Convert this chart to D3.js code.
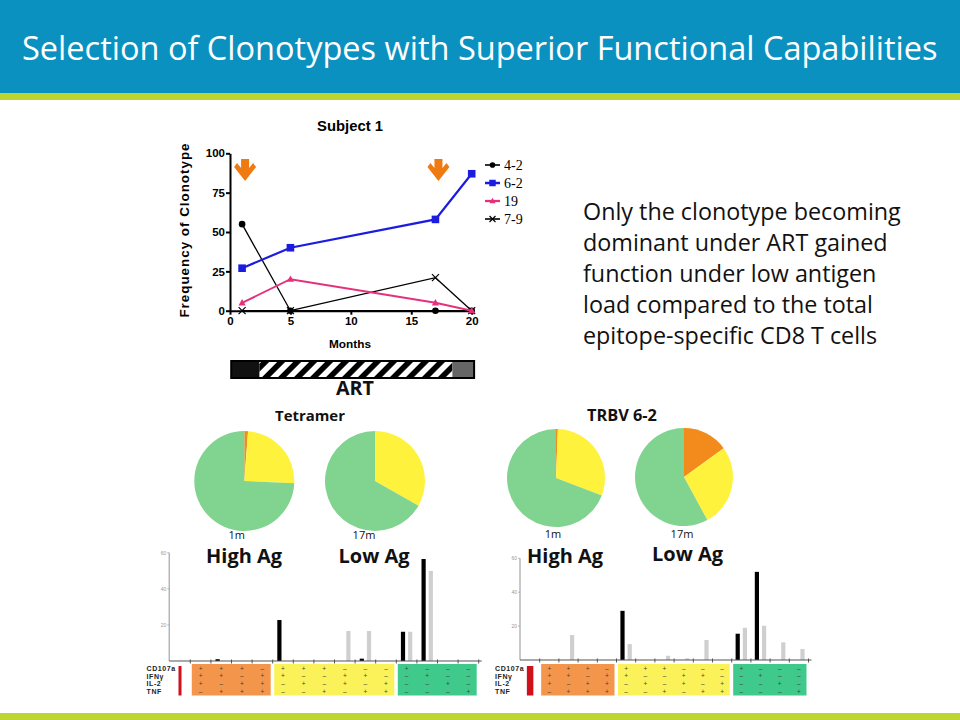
<!DOCTYPE html>
<html><head><meta charset="utf-8">
<script src="https://cdn.jsdelivr.net/npm/d3@7"></script>
<style>body{margin:0;background:#fff}svg{display:block}</style>
</head><body>
<svg id="c" width="960" height="720"></svg>
<script>
// ---------------- DATA ----------------
const titleText = "Selection of Clonotypes with Superior Functional Capabilities";
const months = [1, 5, 17, 20];
const clonotypes = ["4-2", "6-2", "19", "7-9"];
const freq_4_2 = [55, 0, 0, 0];
const freq_6_2 = [27, 40, 58, 87];
const freq_19 = [5, 20, 5, 0];
const freq_7_9 = [0, 0, 21, 0];
const monthTicks = [0, 5, 10, 15, 20];
const freqTicks = [0, 25, 50, 75, 100];
const arrowMonths = [1, 17];
const artBounds = [0.1, 2.45, 18.4, 20.2];   // pre-ART | ART | post
const textLines = ["Only the clonotype becoming", "dominant under ART gained", "function under low antigen",
                   "load compared to the total", "epitope-specific CD8 T cells"];

const pieParts = ["3 functions", "2 functions", "1 function"];
const pieTetramer1m = [1.2, 24.5, 74.3];
const pieTetramer17m = [0, 33.2, 66.8];
const pieTRBV1m = [0.6, 30.2, 69.2];
const pieTRBV17m = [15, 27.1, 57.9];
const pieTimes = ["1m", "17m"];
const pieAg = ["High Ag", "Low Ag"];

const functionNames = ["CD107a", "IFNγ", "IL-2", "TNF"];
const combos = ["++++", "+++-", "++-+", "+-++", "-+++", "++--", "+-+-", "+--+", "-++-", "-+-+", "--++", "+---", "-+--", "--+-", "---+"];
const tetramer1m  = [0, 0, 1, 0, 0, 22.7, 0, 0, 0, 1.3, 0, 16.2, 56.5, 0, 0];
const tetramer17m = [0, 0, 0, 0, 0, 0, 0, 0, 16.6, 16.6, 0, 16.2, 49.9, 0, 0];
const trbv1m  = [0, 0, 0, 0, 0, 29, 0, 0, 0, 0, 0, 15.5, 52, 0, 0];
const trbv17m = [0, 0, 14.7, 0, 0, 9.4, 0, 2.5, 1, 11.8, 0, 19, 20.2, 10.4, 6.5];
const barTicks = [20, 40, 60];

// ---------------- DRAW ----------------
const svg = d3.select("#c");
const fit = (sel, w) => { const l = sel.node().getComputedTextLength(); sel.attr("font-size", parseFloat(sel.attr("font-size")) * w / l); return sel; };

// header
svg.append("rect").attr("x", 0).attr("y", 0).attr("width", 960).attr("height", 93).attr("fill", "#0a91bf");
svg.append("rect").attr("x", 0).attr("y", 93).attr("width", 960).attr("height", 7).attr("fill", "#bfd52f");
svg.append("rect").attr("x", 0).attr("y", 713).attr("width", 960).attr("height", 7).attr("fill", "#bfd52f");
fit(svg.append("text").attr("x", 22).attr("y", 60).attr("fill", "#fff").attr("font-family", "Open Sans")
  .attr("font-size", 28).text(titleText), 916);

// paragraph
const para = svg.append("g").attr("font-family", "Open Sans").attr("fill", "#111");
const p0 = fit(para.append("text").attr("x", 583).attr("y", 220).attr("font-size", 21).text(textLines[0]), 318);
const pSize = p0.attr("font-size");
textLines.slice(1).forEach((t, i) => para.append("text").attr("x", 583).attr("y", 220 + 31 * (i + 1)).attr("font-size", pSize).text(t));

// ---------- line chart ----------
const x = d3.scaleLinear([0, 20], [230, 471.7]);
const y = d3.scaleLinear([0, 100], [310.7, 153.3]);
const lc = svg.append("g").attr("font-family", "Liberation Sans, Arial").attr("font-weight", "bold");
fit(lc.append("text").attr("x", 350).attr("y", 131).attr("text-anchor", "middle").attr("font-size", 13).text("Subject 1"), 66);
fit(lc.append("text").attr("x", 350).attr("y", 348).attr("text-anchor", "middle").attr("font-size", 11).text("Months"), 42);
fit(lc.append("text").attr("transform", "translate(189,230) rotate(-90)").attr("text-anchor", "middle")
  .attr("font-size", 13).attr("letter-spacing", 1).text("Frequency of Clonotype"), 176);

const xAx = lc.append("g").attr("transform", `translate(0,${y(0)})`)
  .call(d3.axisBottom(x).tickValues(monthTicks).tickSize(4).tickSizeOuter(0).tickPadding(2));
const yAx = lc.append("g").attr("transform", `translate(${x(0)},0)`)
  .call(d3.axisLeft(y).tickValues(freqTicks).tickSize(4).tickSizeOuter(0).tickPadding(1));
[xAx, yAx].forEach(a => {
  a.selectAll("path,line").attr("stroke", "#000").attr("stroke-width", 2);
  a.selectAll("text").attr("font-size", 11.5).attr("font-weight", "bold").attr("fill", "#000").attr("font-family", "Liberation Sans, Arial");
});

const series = [
  { name: clonotypes[0], vals: freq_4_2, color: "#000", w: 1.3, marker: "circle" },
  { name: clonotypes[1], vals: freq_6_2, color: "#1c1ce0", w: 2.2, marker: "square" },
  { name: clonotypes[2], vals: freq_19, color: "#e6307c", w: 2, marker: "triangle" },
  { name: clonotypes[3], vals: freq_7_9, color: "#000", w: 1.3, marker: "x" }
];
const line = d3.line().x(d => x(d[0])).y(d => y(d[1]));
const drawMarker = (g, type, color, cx, cy, s) => {
  if (type === "circle") g.append("circle").attr("cx", cx).attr("cy", cy).attr("r", 3.3 * s).attr("fill", color);
  else if (type === "square") g.append("rect").attr("x", cx - 3.8 * s).attr("y", cy - 3.8 * s).attr("width", 7.6 * s).attr("height", 7.6 * s).attr("fill", color);
  else if (type === "triangle") g.append("path").attr("d", `M${cx},${cy - 3.8 * s}L${cx + 3.6 * s},${cy + 2.6 * s}L${cx - 3.6 * s},${cy + 2.6 * s}Z`).attr("fill", color);
  else g.append("path").attr("d", `M${cx - 3.5 * s},${cy - 3.5 * s}L${cx + 3.5 * s},${cy + 3.5 * s}M${cx - 3.5 * s},${cy + 3.5 * s}L${cx + 3.5 * s},${cy - 3.5 * s}`).attr("stroke", color).attr("stroke-width", 1.2);
};
[series[3], series[0], series[2], series[1]].forEach(s => {
  const pts = months.map((m, i) => [m, s.vals[i]]);
  lc.append("path").attr("d", line(pts)).attr("fill", "none").attr("stroke", s.color).attr("stroke-width", s.w);
  pts.forEach(p => drawMarker(lc, s.marker, s.color, x(p[0]), y(p[1]), 1));
});
// legend
const lg = svg.append("g").attr("font-family", "Liberation Serif, Times New Roman").attr("font-size", 14);
series.forEach((s, i) => {
  const yy = 165 + i * 18;
  lg.append("line").attr("x1", 485).attr("x2", 500).attr("y1", yy).attr("y2", yy).attr("stroke", s.color).attr("stroke-width", s.w + 0.3);
  drawMarker(lg, s.marker, s.color, 492.5, yy, 0.85);
  lg.append("text").attr("x", 504).attr("y", yy + 5).text(s.name);
});
// orange arrows
arrowMonths.forEach(m => {
  const cx = x(m) + 3, t = 159;
  svg.append("path").attr("fill", "#f07a12")
    .attr("d", `M${cx - 4},${t}L${cx + 4},${t}L${cx + 4},${t + 9}L${cx + 8},${t + 4}L${cx + 11},${t + 8}L${cx},${t + 22}L${cx - 11},${t + 8}L${cx - 8},${t + 4}L${cx - 4},${t + 9}Z`);
});
// ART bar
const defs = svg.append("defs");
const pat = defs.append("pattern").attr("id", "hatch").attr("patternUnits", "userSpaceOnUse").attr("width", 11.3).attr("height", 11.3)
  .attr("patternTransform", "rotate(45)");
pat.append("rect").attr("width", 11.3).attr("height", 11.3).attr("fill", "#fff");
pat.append("rect").attr("width", 5.6).attr("height", 11.3).attr("fill", "#000");
const artY = 361, artH = 17;
const artFills = ["#111", "url(#hatch)", "#666"];
artFills.forEach((f, i) => svg.append("rect").attr("x", x(artBounds[i])).attr("y", artY).attr("width", x(artBounds[i + 1]) - x(artBounds[i])).attr("height", artH).attr("fill", f));
svg.append("rect").attr("x", x(artBounds[0])).attr("y", artY).attr("width", x(artBounds[3]) - x(artBounds[0])).attr("height", artH)
  .attr("fill", "none").attr("stroke", "#000").attr("stroke-width", 2);
fit(svg.append("text").attr("x", 355).attr("y", 395).attr("text-anchor", "middle").attr("font-family", "Open Sans").attr("font-weight", "bold").attr("font-size", 18).attr("fill", "#111").text("ART"), 38);

// ---------- pies ----------
const pieColors = d3.scaleOrdinal(pieParts, ["#f28a1c", "#fff23c", "#80d48f"]);
const pie = d3.pie().sort(null).value(d => d.v);
const pies = [
  { vals: pieTetramer1m, cx: 244.3, cy: 481, r: 50 },
  { vals: pieTetramer17m, cx: 375, cy: 481, r: 50 },
  { vals: pieTRBV1m, cx: 556, cy: 478, r: 49 },
  { vals: pieTRBV17m, cx: 684, cy: 477, r: 49 }
];
pies.forEach(p => {
  const g = svg.append("g").attr("transform", `translate(${p.cx},${p.cy})`);
  g.selectAll("path").data(pie(p.vals.map((v, i) => ({ k: pieParts[i], v })))).join("path")
    .attr("d", d3.arc().innerRadius(0).outerRadius(p.r)).attr("fill", d => pieColors(d.data.k));
});
const bt = svg.append("g").attr("font-family", "Open Sans").attr("fill", "#111");
fit(bt.append("text").attr("x", 310).attr("y", 421).attr("text-anchor", "middle").attr("font-weight", "bold").attr("font-size", 13).text("Tetramer"), 70);
fit(bt.append("text").attr("x", 622).attr("y", 421).attr("text-anchor", "middle").attr("font-weight", "bold").attr("font-size", 13).text("TRBV 6-2"), 70);
const timeLab = [[236.7, 539], [364, 539], [553, 538], [682, 538]];
timeLab.forEach((p, i) => bt.append("text").attr("x", p[0]).attr("y", p[1]).attr("text-anchor", "middle").attr("font-size", 11).text(pieTimes[i % 2]));
const agLab = [[244, 563], [374, 563], [565, 563], [687.5, 561]];
agLab.forEach((p, i) => fit(bt.append("text").attr("x", p[0]).attr("y", p[1]).attr("text-anchor", "middle").attr("font-weight", "bold").attr("font-size", 20).text(pieAg[i % 2]), i % 2 ? 71 : 76));

// ---------- bar charts with boolean grid ----------
const groupColor = n => ["#fff", "#3fc98b", "#fbf25a", "#f3954b", "#d0111b"][n];
function barChart(cfg) {
  const g = svg.append("g");
  const xb = d3.scaleBand(combos, cfg.range);
  const sub = d3.scaleBand(["1m", "17m"], [-7.2, 7.2]);
  const yb = d3.scaleLinear([0, 60], cfg.yRange);
  const a0 = cfg.range[0] - 0.5;
  // y axis
  g.append("line").attr("x1", a0).attr("x2", a0).attr("y1", yb(0)).attr("y2", yb(60)).attr("stroke", "#777").attr("stroke-width", 0.8);
  barTicks.forEach(t => {
    g.append("line").attr("x1", a0 - 2).attr("x2", a0).attr("y1", yb(t)).attr("y2", yb(t)).attr("stroke", "#999").attr("stroke-width", 0.6);
    g.append("text").attr("x", a0 - 3).attr("y", yb(t) + 1.8).attr("text-anchor", "end").attr("font-size", 5).attr("fill", "#999").attr("font-family", "Liberation Sans").text(t);
  });
  // bars
  const drawB = (vals, key, col) => g.selectAll(null).data(combos).join("rect")
    .attr("x", d => xb(d) + xb.bandwidth() / 2 + sub(key) + sub.bandwidth() / 2 - 2.1)
    .attr("width", 4.2).attr("y", (d, i) => yb(vals[i])).attr("height", (d, i) => yb(0) - yb(vals[i])).attr("fill", col);
  drawB(cfg.v17, "17m", "#cfcfcf");
  drawB(cfg.v1, "1m", "#000");
  // x axis
  g.append("line").attr("x1", a0).attr("x2", cfg.range[1] + 3).attr("y1", yb(0)).attr("y2", yb(0)).attr("stroke", "#555").attr("stroke-width", 1.2);
  combos.forEach(c => {
    const bx = xb(c) + xb.step();
    g.append("line").attr("x1", bx).attr("x2", bx).attr("y1", yb(0) - 1.5).attr("y2", yb(0) + 2.5).attr("stroke", "#444").attr("stroke-width", 0.9);
  });
  // grid
  const gy0 = 664, gh = 31.5, rowY = i => 668.5 + i * 7.7;
  functionNames.forEach((f, i) => g.append("text").attr("x", cfg.labelX).attr("y", rowY(i) + 2.3).attr("font-size", 7).attr("font-weight", "bold")
    .attr("letter-spacing", 0.6).attr("font-family", "Liberation Sans").attr("fill", "#222").text(f));
  const counts = combos.map(c => c.split("").filter(s => s === "+").length);
  const groups = d3.groups(combos.map((c, i) => ({ c, n: counts[i] })), d => d.n);
  groups.forEach(([n, items]) => {
    if (n === 4) {
      const cx = xb(items[0].c) + xb.bandwidth() / 2;
      g.append("rect").attr("x", cx - cfg.redW / 2).attr("y", gy0 + 2).attr("width", cfg.redW).attr("height", gh - 2).attr("fill", groupColor(n));
    } else {
      const x0 = xb(items[0].c) + 1.5, x1 = xb(items[items.length - 1].c) + xb.step() - 2;
      g.append("rect").attr("x", x0).attr("y", gy0).attr("width", x1 - x0).attr("height", gh).attr("fill", groupColor(n));
      items.forEach(it => it.c.split("").forEach((s, r) => g.append("text").attr("x", xb(it.c) + xb.bandwidth() / 2).attr("y", rowY(r) + 2.2)
        .attr("text-anchor", "middle").attr("font-size", 6.5).attr("fill", "#444").attr("font-family", "Liberation Sans").text(s === "+" ? "+" : "–")));
    }
  });
}
barChart({ range: [169.7, 478.7], yRange: [661, 552.7], v1: tetramer1m, v17: tetramer17m, labelX: 146.5, redW: 3 });
barChart({ range: [520.5, 808.5], yRange: [660, 558.3], v1: trbv1m, v17: trbv17m, labelX: 495, redW: 6.5 });
</script>
</body></html>
